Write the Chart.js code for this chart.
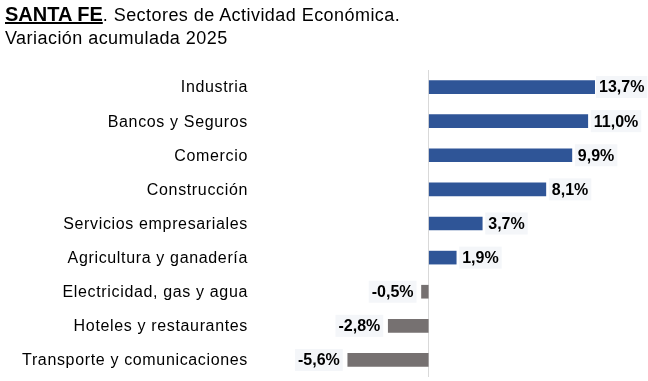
<!DOCTYPE html>
<html>
<head>
<meta charset="utf-8">
<script src="https://cdn.jsdelivr.net/npm/chart.js@4.4.1/dist/chart.umd.min.js"></script>
<style>
  html, body { margin: 0; padding: 0; background: #fff; }
  #wrap { position: relative; width: 648px; height: 381px; font-family: "Liberation Sans", Arial, sans-serif; }
  #titulo { position: absolute; left: 5px; top: 3px; font-size: 18px; line-height: 23px; color: #000; letter-spacing: 0.45px; }
  #titulo b { font-size: 20px; letter-spacing: 0; text-decoration: underline; }
  canvas { position: absolute; left: 0; top: 0; }
</style>
</head>
<body>
<div id="wrap">
  <canvas id="sectoresChart" width="648" height="381"></canvas>
  <div id="titulo"><b>SANTA FE</b>. Sectores de Actividad Económica.<br>Variación acumulada 2025</div>
</div>
<script>
// Datos del gráfico
const sectores = ['Industria', 'Bancos y Seguros', 'Comercio', 'Construcción', 'Servicios empresariales',
  'Agricultura y ganadería', 'Electricidad, gas y agua', 'Hoteles y restaurantes', 'Transporte y comunicaciones'];
const variacion = [13.7, 11.0, 9.9, 8.1, 3.7, 1.9, -0.5, -2.8, -5.6];

const azul = '#2F5597';
const gris = '#767171';
const fuente = '"Liberation Sans", Arial, sans-serif';

// Nombres de sectores y etiquetas de valor
const etiquetasPlugin = {
  id: 'etiquetas',
  afterDatasetsDraw(chart) {
    const ctx = chart.ctx;
    const area = chart.chartArea;
    const meta = chart.getDatasetMeta(0);
    ctx.save();
    ctx.textBaseline = 'middle';
    meta.data.forEach(function(bar, i) {
      // nombre del sector, alineado a la derecha
      ctx.font = '16px ' + fuente;
      ctx.letterSpacing = '0.65px';
      ctx.fillStyle = '#000';
      ctx.textAlign = 'right';
      ctx.fillText(sectores[i], 248, bar.y + 1);
      ctx.letterSpacing = '0px';

      // valor (la barra de Industria queda cortada en el borde)
      const v = variacion[i];
      const texto = v.toFixed(1).replace('.', ',') + '%';
      ctx.font = 'bold 16px ' + fuente;
      const w = ctx.measureText(texto).width;
      let x;
      if (v >= 0) {
        x = bar.x > area.right ? area.right + 4 : bar.x + 6;
      } else {
        x = bar.x - 8 - w;
      }
      ctx.fillStyle = '#f4f6f9';
      ctx.fillRect(x - 3, bar.y - 11, w + 6, 22);
      ctx.fillStyle = '#000';
      ctx.textAlign = 'left';
      ctx.fillText(texto, x, bar.y + 1);
    });
    ctx.restore();
  }
};

const chart = new Chart(document.getElementById('sectoresChart').getContext('2d'), {
  type: 'bar',
  data: {
    labels: sectores,
    datasets: [{
      data: variacion,
      backgroundColor: variacion.map(v => v >= 0 ? azul : gris),
      barThickness: 13
    }]
  },
  options: {
    indexAxis: 'y',
    responsive: false,
    animation: false,
    layout: { padding: { top: 70, bottom: 4, right: 53, left: 342 } },
    plugins: {
      legend: { display: false },
      tooltip: { enabled: false }
    },
    scales: {
      x: {
        min: -6,
        max: 11.5,
        ticks: { display: false, stepSize: 2 },
        border: { display: false },
        grid: {
          drawTicks: false,
          color: c => c.tick && c.tick.value === 0 ? '#d9d9d9' : 'rgba(0,0,0,0)'
        }
      },
      y: {
        display: false
      }
    }
  },
  plugins: [etiquetasPlugin]
});
</script>
</body>
</html>
